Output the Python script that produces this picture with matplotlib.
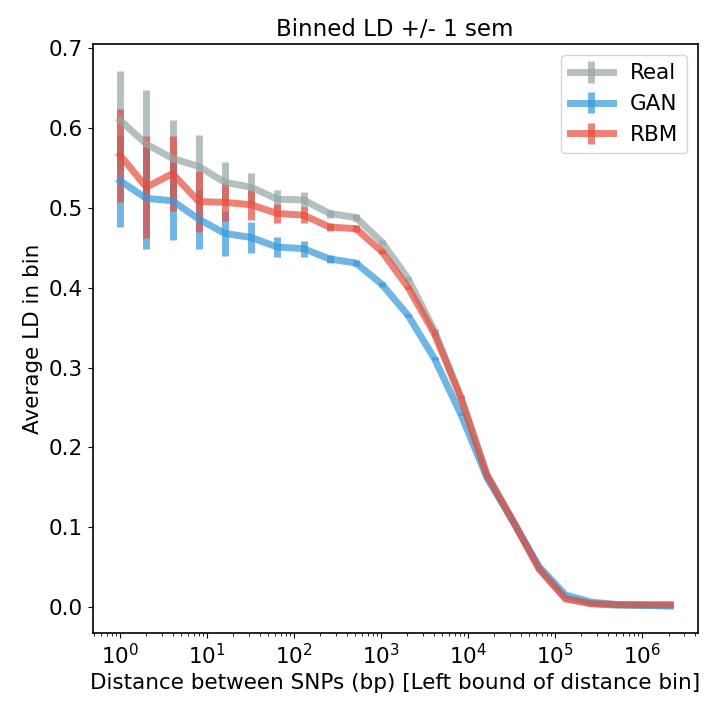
import numpy as np
import matplotlib
matplotlib.use("Agg")
import matplotlib.pyplot as plt

# left bounds of the distance bins (bp)
bins = [2 ** i for i in range(22)]

real_ld = [0.610, 0.580, 0.562, 0.552, 0.532, 0.526, 0.511, 0.510, 0.493, 0.488,
           0.457, 0.411, 0.346, 0.263, 0.166, 0.108, 0.048, 0.011, 0.004, 0.002,
           0.002, 0.002]
real_sem = [0.062, 0.068, 0.048, 0.039, 0.025, 0.018, 0.012, 0.010, 0.005, 0.004,
            0.003, 0.002, 0.002, 0.001, 0.001, 0.001, 0.001, 0.0, 0.0, 0.0, 0.0, 0.0]

gan_ld = [0.534, 0.512, 0.509, 0.486, 0.468, 0.463, 0.451, 0.449, 0.436, 0.431,
          0.404, 0.365, 0.311, 0.242, 0.162, 0.107, 0.050, 0.015, 0.006, 0.003,
          0.002, 0.001]
gan_sem = [0.058, 0.064, 0.049, 0.037, 0.028, 0.020, 0.013, 0.010, 0.005, 0.004,
           0.003, 0.002, 0.002, 0.001, 0.001, 0.001, 0.001, 0.0, 0.0, 0.0, 0.0, 0.0]

rbm_ld = [0.566, 0.526, 0.543, 0.508, 0.507, 0.504, 0.493, 0.491, 0.476, 0.474,
          0.445, 0.400, 0.342, 0.263, 0.165, 0.107, 0.047, 0.010, 0.004, 0.003,
          0.003, 0.003]
rbm_sem = [0.058, 0.064, 0.047, 0.038, 0.023, 0.019, 0.012, 0.010, 0.005, 0.004,
           0.003, 0.002, 0.002, 0.001, 0.001, 0.001, 0.001, 0.0, 0.0, 0.0, 0.0, 0.0]

labels = ["Real", "GAN", "RBM"]
colors = ["#95a5a6", "#3498db", "#e74c3c"]

plt.rcParams["font.size"] = 15.5
plt.rcParams["axes.linewidth"] = 1.2
fig, ax = plt.subplots(figsize=(7.07, 7.08), dpi=100)
fig.subplots_adjust(left=0.131, right=0.987, top=0.938, bottom=0.106)

for ld, sem, lab, col in zip([real_ld, gan_ld, rbm_ld],
                             [real_sem, gan_sem, rbm_sem], labels, colors):
    ax.errorbar(bins, ld, yerr=sem, color=col, lw=5, elinewidth=5,
                alpha=0.7, label=lab)

ax.set_xscale("log")
ax.set_title("Binned LD +/- 1 sem", fontsize=16.5)
ax.set_xlabel("Distance between SNPs (bp) [Left bound of distance bin]")
ax.set_ylabel("Average LD in bin")
ax.set_yticks(np.arange(0, 0.71, 0.1))
ax.legend(loc="upper right")

fig.savefig("out.png")
